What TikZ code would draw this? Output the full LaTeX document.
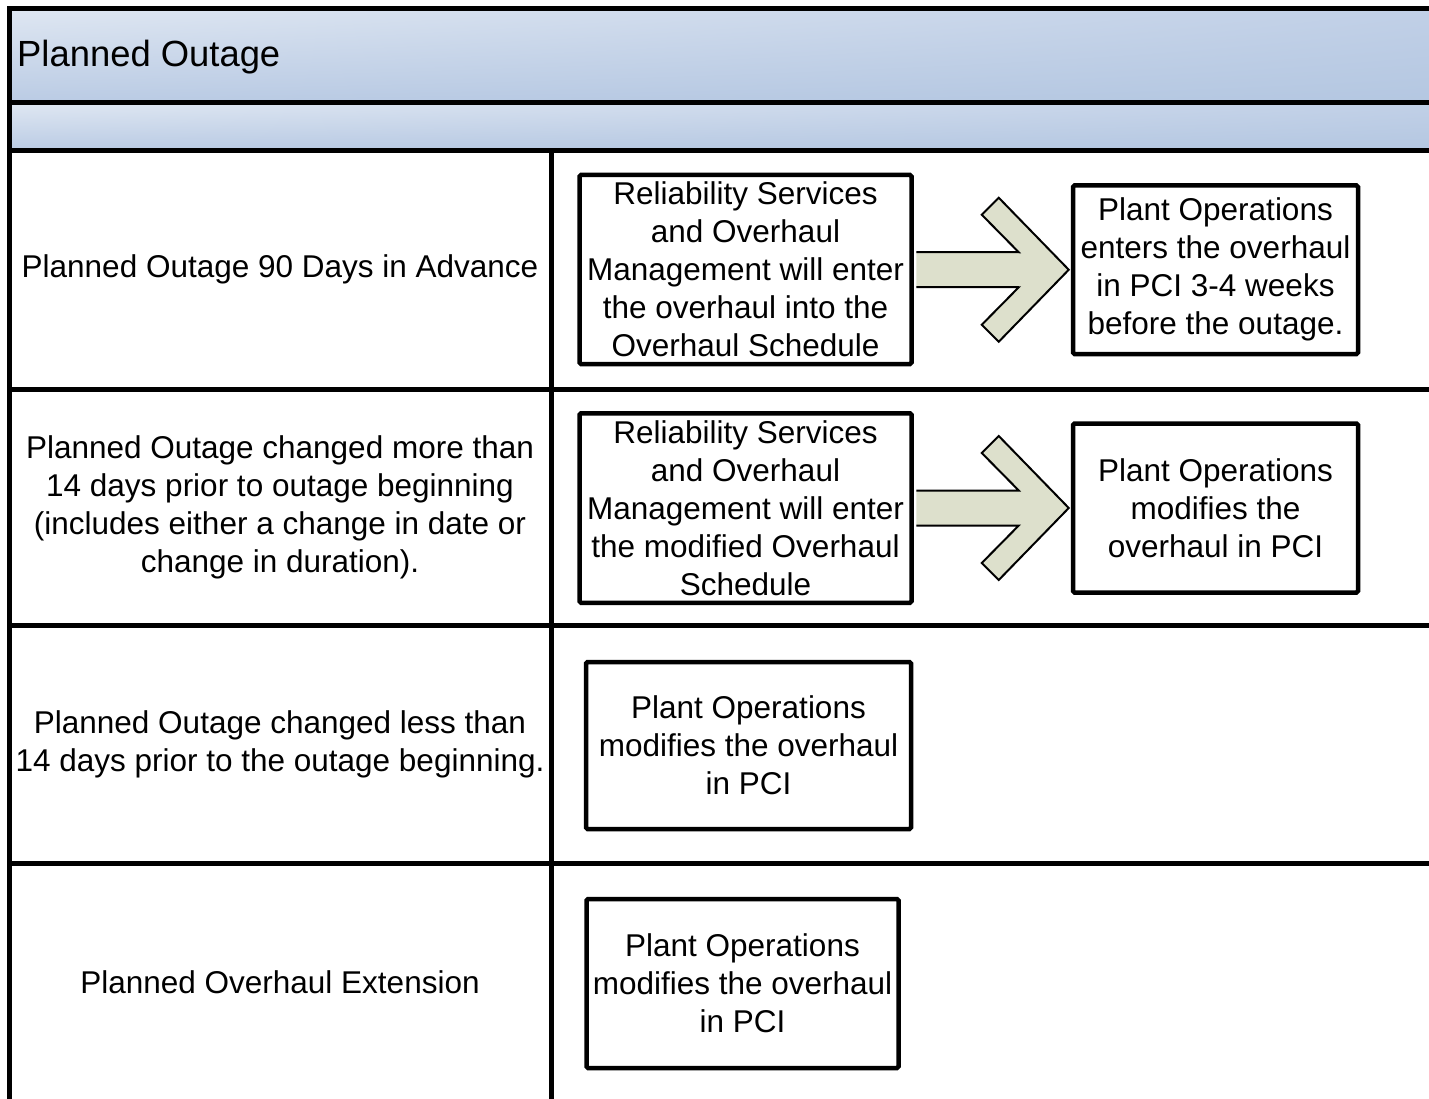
\documentclass[tikz,border=0pt]{standalone}
\usepackage{fontspec}
\setmainfont{Liberation Sans}
\usepackage{tikz}
\usetikzlibrary{calc,shadings}
\usepackage{xcolor}
\definecolor{ColBandA}{RGB}{223,231,242}
\definecolor{ColBandB}{RGB}{186,203,228}
\definecolor{ColBandC}{RGB}{193,208,231}
\definecolor{ColBandD}{RGB}{180,199,225}
\definecolor{ColArrow}{RGB}{221,224,204}
\tikzstyle{BandShade}=[upper left=ColBandA,lower left=ColBandB,upper right=ColBandC,lower right=ColBandD]
\tikzstyle{GridLine}=[black,line width=5pt]
\tikzstyle{RowText}=[align=center,inner sep=0pt,font=\fontsize{31.5}{38}\selectfont]
\tikzstyle{TitleText}=[inner sep=0pt,font=\fontsize{36.4}{44}\selectfont]
\tikzstyle{StepBox}=[draw,line width=4.5pt,rounded corners=1.5pt,fill=white,align=center,
inner sep=0pt,font=\fontsize{31.5}{38}\selectfont]
\tikzstyle{BlockArrow}=[fill=ColArrow,draw=black,line width=2pt,line join=miter]

\begin{document}
\begin{tikzpicture}[x=1pt,y=-1pt]
        \useasboundingbox (0,0) rectangle (1429,1099);
        \shade[BandShade] (9,8) rectangle (1432,103);
        \shade[BandShade] (9,103) rectangle (1432,151);
        \draw[GridLine] (1432,8.5)--(9,8.5)--(9,1104);
        \draw[GridLine] (9,103)--(1432,103);
        \draw[GridLine] (9,151)--(1432,151);
        \draw[GridLine] (9,389.5)--(1432,389.5);
        \draw[GridLine] (9,625.5)--(1432,625.5);
        \draw[GridLine] (9,863)--(1432,863);
        \draw[GridLine] (551,151)--(551,1104);
        \node[TitleText,anchor=base west](title)at(17,67){Planned Outage};
        \node[RowText](lane1)at(280,269){Planned Outage 90 Days in Advance};
        \node[RowText](lane2)at(280,507){Planned Outage changed more than\\14 days prior to outage beginning\\(includes either a change in date or\\change in duration).};
        \node[RowText](lane3)at(280,744){Planned Outage changed less than\\14 days prior to the outage beginning.};
        \node[RowText](lane4)at(280,982){Planned Overhaul Extension};
        \node[StepBox,minimum width=332pt,minimum height=189pt](r1a)at(745.5,269.5){Reliability Services\\and Overhaul\\Management will enter\\the overhaul into the\\Overhaul Schedule};
        \node[StepBox,minimum width=285pt,minimum height=168.5pt](r1b)at(1215.5,269.75){Plant Operations\\enters the overhaul\\in PCI 3-4 weeks\\before the outage.};
        \node[StepBox,minimum width=332pt,minimum height=189.5pt](r2a)at(745.5,508){Reliability Services\\and Overhaul\\Management will enter\\the modified Overhaul\\Schedule};
        \node[StepBox,minimum width=285pt,minimum height=169pt](r2b)at(1215.5,508){Plant Operations\\modifies the\\overhaul in PCI};
        \node[StepBox,minimum width=325pt,minimum height=167pt](r3)at(748.5,745.5){Plant Operations\\modifies the overhaul\\in PCI};
        \node[StepBox,minimum width=312pt,minimum height=169pt](r4)at(742.5,983.5){Plant Operations\\modifies the overhaul\\in PCI};
        \filldraw[BlockArrow]($(r1a.east)+(2.5,-17.5)$)--($(r1b.west)+(-52,-17.5)$)--($(r1b.west)+(-89,-55)$)
          --($(r1b.west)+(-72,-72)$)--($(r1b.west)+(-2,0)$)--($(r1b.west)+(-72,72)$)
          --($(r1b.west)+(-89,55)$)--($(r1b.west)+(-52,17.5)$)--($(r1a.east)+(2.5,17.5)$);
        \filldraw[BlockArrow]($(r2a.east)+(2.5,-17.5)$)--($(r2b.west)+(-52,-17.5)$)--($(r2b.west)+(-89,-55)$)
          --($(r2b.west)+(-72,-72)$)--($(r2b.west)+(-2,0)$)--($(r2b.west)+(-72,72)$)
          --($(r2b.west)+(-89,55)$)--($(r2b.west)+(-52,17.5)$)--($(r2a.east)+(2.5,17.5)$);
    \end{tikzpicture}
\end{document}
